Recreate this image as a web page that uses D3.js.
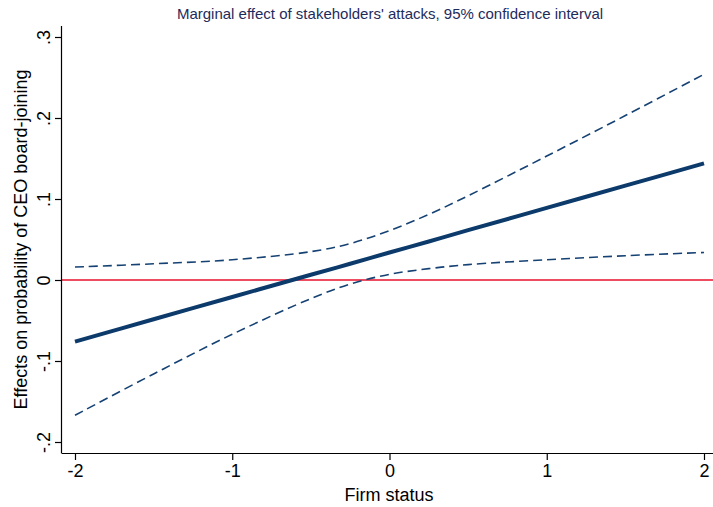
<!DOCTYPE html>
<html>
<head>
<meta charset="utf-8">
<script src="https://cdn.jsdelivr.net/npm/d3@7"></script>
<style>
  body { margin: 0; background: #fff; }
  svg { display: block; font-family: "Liberation Sans", Arial, Helvetica, sans-serif; }
</style>
</head>
<body>
<div class="chart"></div>
<script>
// values
const status = [-2, -1.5, -1, -0.5, -0.25, 0, 0.25, 0.5, 1, 1.5, 2];
const effect = [-0.076, -0.0485, -0.021, 0.0065, 0.020, 0.034, 0.0475, 0.0615, 0.089, 0.1165, 0.144];
const upper  = [0.016, 0.020, 0.025, 0.035, 0.045, 0.061, 0.081, 0.104, 0.153, 0.203, 0.254];
const lower  = [-0.167, -0.116, -0.067, -0.023, -0.005, 0.007, 0.014, 0.019, 0.025, 0.030, 0.034];
const xTicks = [-2, -1, 0, 1, 2];
const yTicks = [-0.2, -0.1, 0, 0.1, 0.2, 0.3];

const w = 713, h = 507;
const pLeft = 62, pRight = 713, pTop = 26, pBottom = 453;

const x = d3.scaleLinear().domain([-2, 2]).range([75, 704]);
const y = d3.scaleLinear().domain([-0.2, 0.3]).range([442, 37]);

const svg = d3.select('div.chart').append('svg')
  .attr('width', w)
  .attr('height', h);

// stata style labels: plain hyphen, no leading zero
const fmtY = (v) => {
  if (Math.abs(v) < 1e-9) return '0';
  return (v < 0 ? '-' : '') + Math.abs(v).toFixed(1).replace('0.', '.');
};
const fmtX = (v) => (v < 0 ? '-' : '') + Math.abs(v);

// zero line
svg.append('line')
  .attr('x1', pLeft).attr('x2', pRight)
  .attr('y1', y(0)).attr('y2', y(0))
  .attr('stroke', '#e8112d')
  .attr('stroke-width', 1.6);

const pts = (arr) => status.map((s, i) => [s, arr[i]]);
const line = d3.line()
  .x(d => x(d[0]))
  .y(d => y(d[1]))
  .curve(d3.curveCatmullRom.alpha(0.5));

[upper, lower].forEach(arr => {
  svg.append('path')
    .datum(pts(arr))
    .attr('d', line)
    .attr('fill', 'none')
    .attr('stroke', '#154273')
    .attr('stroke-width', 1.6)
    .attr('stroke-dasharray', '9,5');
});

svg.append('path')
  .datum(pts(effect))
  .attr('d', line)
  .attr('fill', 'none')
  .attr('stroke', '#0c3a6b')
  .attr('stroke-width', 4);

// axes
const xAxis = d3.axisBottom(x).tickValues(xTicks).tickSize(7).tickPadding(4).tickFormat(fmtX);
const gx = svg.append('g')
  .attr('transform', 'translate(0,' + pBottom + ')')
  .call(xAxis);
gx.select('.domain').attr('d', 'M' + pLeft + ',0.5H' + pRight);
gx.selectAll('text').attr('font-size', 18).attr('fill', '#000').attr('font-family', null);

const yAxis = d3.axisLeft(y).tickValues(yTicks).tickSize(7).tickFormat(fmtY);
const gy = svg.append('g')
  .attr('transform', 'translate(' + pLeft + ',0)')
  .call(yAxis);
gy.select('.domain').attr('d', 'M-0.5,' + pTop + 'V' + (pBottom + 0.5));
gy.selectAll('text')
  .attr('font-size', 18)
  .attr('fill', '#000')
  .attr('font-family', null)
  .attr('text-anchor', 'middle')
  .attr('dy', null)
  .attr('x', null)
  .attr('transform', 'translate(-12,0) rotate(-90)');

svg.selectAll('.domain, .tick line').attr('stroke', '#000').attr('stroke-width', 1.2);

// labels
svg.append('text')
  .text('Marginal effect of stakeholders\' attacks, 95% confidence interval')
  .attr('x', 390)
  .attr('y', 19)
  .attr('text-anchor', 'middle')
  .attr('font-size', 15)
  .attr('fill', '#1e2b5c');

svg.append('text')
  .text('Firm status')
  .attr('x', 389)
  .attr('y', 501)
  .attr('text-anchor', 'middle')
  .attr('font-size', 18)
  .attr('fill', '#000');

svg.append('text')
  .text('Effects on probability of CEO board-joining')
  .attr('transform', 'translate(27,' + ((pTop + pBottom) / 2) + ') rotate(-90)')
  .attr('text-anchor', 'middle')
  .attr('font-size', 18)
  .attr('fill', '#000');
</script>
</body>
</html>
